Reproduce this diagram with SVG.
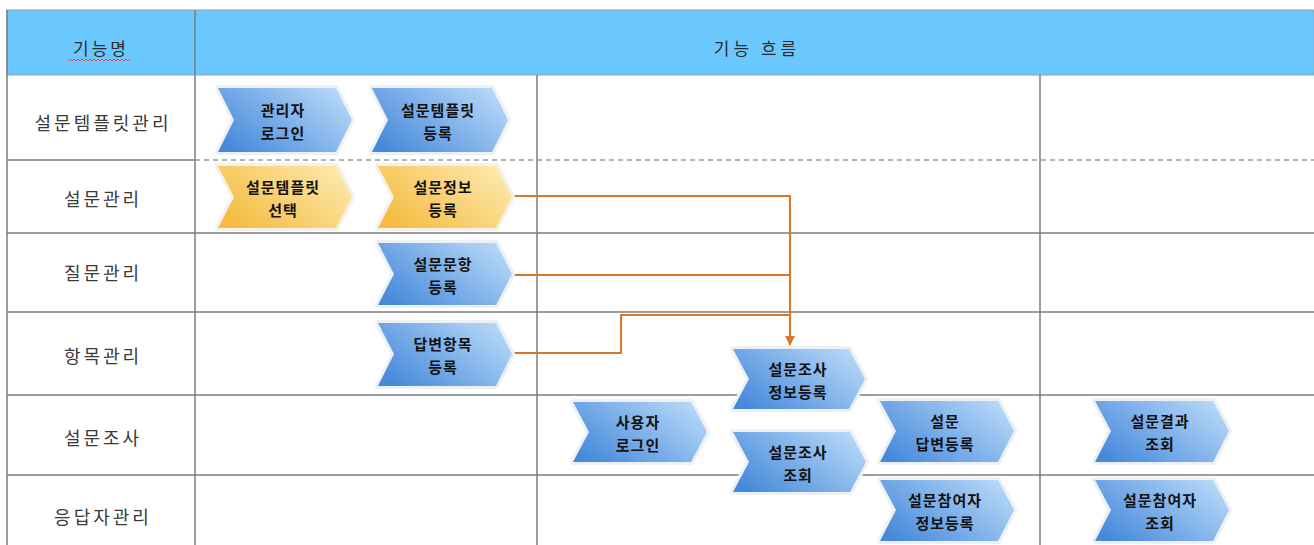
<svg xmlns="http://www.w3.org/2000/svg" width="1314" height="545" viewBox="0 0 1314 545">
<defs>
<linearGradient id="gBlue" x1="0" y1="0.8" x2="1" y2="0.2">
<stop offset="0" stop-color="#4689DB"/>
<stop offset="1" stop-color="#B7D8F8"/>
</linearGradient>
<linearGradient id="gYellow" x1="0" y1="0.8" x2="1" y2="0.2">
<stop offset="0" stop-color="#F4BB3F"/>
<stop offset="1" stop-color="#FDE8AC"/>
</linearGradient>
<marker id="arrow" viewBox="0 0 10 10" refX="9" refY="5" markerWidth="10" markerHeight="10" markerUnits="userSpaceOnUse" orient="auto">
<path d="M0,0 L10,5 L0,10 Z" fill="#D9782A"/>
</marker>
<style>
.grid{stroke:#7c7c7c;stroke-width:1.5;fill:none}
.dash{stroke:#9a9a9a;stroke-width:1.5;stroke-dasharray:5 4;fill:none}
.lbl{font-family:"Noto Sans CJK KR","Noto Sans",sans-serif;font-size:18px;fill:#3a3a3a;letter-spacing:3px;text-anchor:middle;dominant-baseline:central}
.hdr{font-family:"Noto Sans CJK KR","Noto Sans",sans-serif;font-size:17px;fill:#2a2a2a;letter-spacing:4px;text-anchor:middle;dominant-baseline:central}
.blue{fill:url(#gBlue);stroke:#EEF1F4;stroke-width:6;stroke-linejoin:round;paint-order:stroke}
.yellow{fill:url(#gYellow);stroke:#F3F1EC;stroke-width:6;stroke-linejoin:round;paint-order:stroke}
.ntx{font-family:"Noto Sans CJK KR","Noto Sans",sans-serif;font-size:15px;font-weight:bold;fill:#111;letter-spacing:1px;text-anchor:middle;dominant-baseline:central}
.conn{stroke:#D9782A;stroke-width:2;fill:none}
</style>
</defs>
<rect x="0" y="0" width="1314" height="545" fill="#ffffff"/>
<g id="table">
<rect x="7" y="10" width="1307" height="65" fill="#6AC8FF" stroke="#8aa6b8" stroke-width="1"/>
<line class="grid" x1="195" y1="10" x2="195" y2="545"/>
<line class="grid" x1="537" y1="75" x2="537" y2="545"/>
<line class="grid" x1="1040" y1="75" x2="1040" y2="545"/>
<line class="grid" x1="7" y1="10" x2="7" y2="545"/>
<line class="grid" x1="7" y1="160" x2="195" y2="160"/>
<line class="dash" x1="195" y1="160" x2="1314" y2="160"/>
<line class="grid" x1="7" y1="233" x2="1314" y2="233"/>
<line class="grid" x1="7" y1="312" x2="1314" y2="312"/>
<line class="grid" x1="7" y1="395" x2="1314" y2="395"/>
<line class="grid" x1="7" y1="475" x2="1314" y2="475"/>
<text class="hdr" x="101" y="47" style="letter-spacing:3px">기능명</text>
<path d="M68,61 l2,-2 l2,2 l2,-2 l2,2 l2,-2 l2,2 l2,-2 l2,2 l2,-2 l2,2 l2,-2 l2,2 l2,-2 l2,2 l2,-2 l2,2 l2,-2 l2,2 l2,-2 l2,2 l2,-2 l2,2 l2,-2 l2,2 l2,-2 l2,2 l2,-2 l2,2 l2,-2 l2,2 l2,-2" fill="none" stroke="#E05050" stroke-width="1"/>
<text class="hdr" x="757" y="47">기능 흐름</text>
<text class="lbl" x="103" y="122">설문템플릿관리</text>
<text class="lbl" x="103" y="198">설문관리</text>
<text class="lbl" x="103" y="272">질문관리</text>
<text class="lbl" x="103" y="355">항목관리</text>
<text class="lbl" x="103" y="437">설문조사</text>
<text class="lbl" x="103" y="516">응답자관리</text>
</g>
<g id="connectors">
<polyline class="conn" points="514,196 790,196 790,345" marker-end="url(#arrow)"/>
<polyline class="conn" points="514,275 790,275"/>
<polyline class="conn" points="514,353 621,353 621,315 790,315"/>
</g>
<g id="n1"><polygon class="blue" points="218,88 336,88 352,120 336,152 218,152 234,120"/><text class="ntx" x="283" y="109">관리자</text><text class="ntx" x="283" y="132">로그인</text></g>
<g id="n2"><polygon class="blue" points="372,88 492,88 508,120 492,152 372,152 388,120"/><text class="ntx" x="438" y="109">설문템플릿</text><text class="ntx" x="438" y="132">등록</text></g>
<g id="n3"><polygon class="yellow" points="218,166 336,166 352,197 336,228 218,228 234,197"/><text class="ntx" x="283" y="186">설문템플릿</text><text class="ntx" x="283" y="209">선택</text></g>
<g id="n4"><polygon class="yellow" points="378,166 496,166 512,197 496,228 378,228 394,197"/><text class="ntx" x="443" y="186">설문정보</text><text class="ntx" x="443" y="209">등록</text></g>
<g id="n5"><polygon class="blue" points="378,243 496,243 512,274 496,305 378,305 394,274"/><text class="ntx" x="443" y="263">설문문항</text><text class="ntx" x="443" y="286">등록</text></g>
<g id="n6"><polygon class="blue" points="378,323 496,323 512,354 496,386 378,386 394,354"/><text class="ntx" x="443" y="343">답변항목</text><text class="ntx" x="443" y="366">등록</text></g>
<g id="n7"><polygon class="blue" points="733,349 849,349 865,379 849,409 733,409 749,379"/><text class="ntx" x="798" y="368">설문조사</text><text class="ntx" x="798" y="391">정보등록</text></g>
<g id="n8"><polygon class="blue" points="573,402 691,402 707,432 691,462 573,462 589,432"/><text class="ntx" x="638" y="421">사용자</text><text class="ntx" x="638" y="444">로그인</text></g>
<g id="n9"><polygon class="blue" points="733,432 850,432 866,462 850,492 733,492 749,462"/><text class="ntx" x="798" y="451">설문조사</text><text class="ntx" x="798" y="474">조회</text></g>
<g id="n10"><polygon class="blue" points="880,401 998,401 1014,431 998,462 880,462 896,431"/><text class="ntx" x="945" y="420">설문</text><text class="ntx" x="945" y="443">답변등록</text></g>
<g id="n11"><polygon class="blue" points="1095,401 1213,401 1229,431 1213,462 1095,462 1111,431"/><text class="ntx" x="1160" y="420">설문결과</text><text class="ntx" x="1160" y="443">조회</text></g>
<g id="n12"><polygon class="blue" points="880,480 998,480 1014,510 998,541 880,541 896,510"/><text class="ntx" x="945" y="499">설문참여자</text><text class="ntx" x="945" y="522">정보등록</text></g>
<g id="n13"><polygon class="blue" points="1095,480 1213,480 1229,510 1213,541 1095,541 1111,510"/><text class="ntx" x="1160" y="499">설문참여자</text><text class="ntx" x="1160" y="522">조회</text></g>
</svg>
